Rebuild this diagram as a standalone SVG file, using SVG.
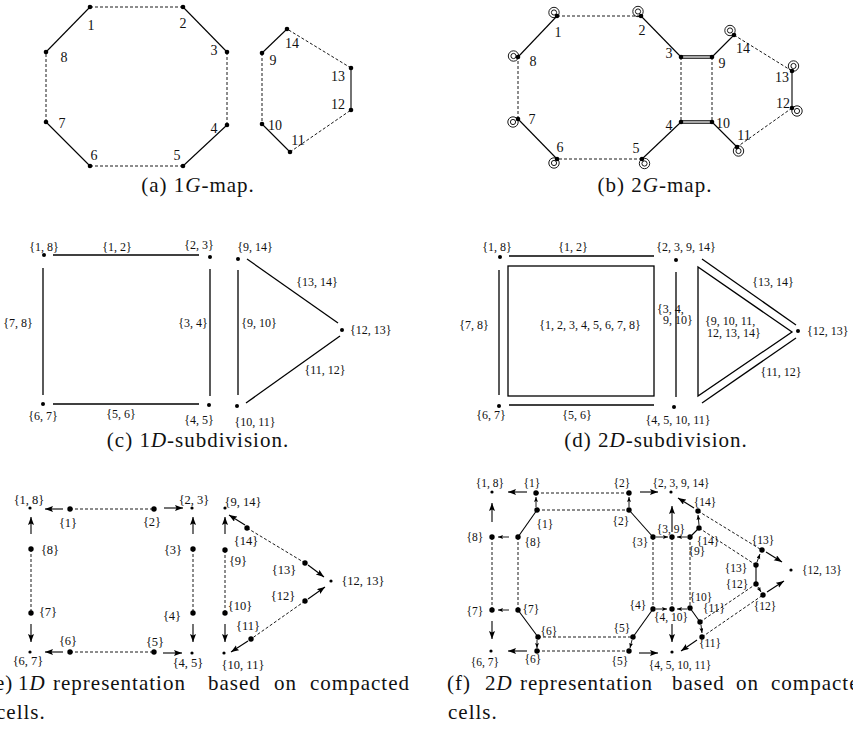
<svg xmlns="http://www.w3.org/2000/svg" width="853" height="743" viewBox="0 0 853 743">
<defs>
<style>
text{font-family:'Liberation Serif','Times New Roman',serif;fill:#111}
.n{font-size:14px;text-anchor:middle}
.l{font-size:12px;text-anchor:middle}
.ls{font-size:12px;text-anchor:start}
.le{font-size:12.5px;text-anchor:middle}
.lf{font-size:11.5px;text-anchor:middle}
.cap{font-size:21px;letter-spacing:1px}
.s{stroke:#000;stroke-width:1.1;fill:none}
.t{stroke:#000;stroke-width:1.3;fill:none}
.d{stroke:#000;stroke-width:0.9;stroke-dasharray:3 2;fill:none}
.a{stroke:#000;stroke-width:1.1;marker-end:url(#ah)}
.as{stroke:#000;stroke-width:0.9;marker-end:url(#ahs)}
.ring{fill:none;stroke:#000;stroke-width:0.9}
</style>
<marker id="ah" markerUnits="userSpaceOnUse" markerWidth="9" markerHeight="7" refX="8" refY="3" orient="auto"><path d="M0,0 L8,3 L0,6 L1.5,3 z" fill="#000"/></marker>
<marker id="ahs" markerUnits="userSpaceOnUse" markerWidth="6" markerHeight="5" refX="5" refY="2" orient="auto"><path d="M0,0 L5,2 L0,4 L1,2 z" fill="#000"/></marker>
</defs>
<rect width="853" height="743" fill="#fff"/>

<!-- ===== (a) 1G-map ===== -->
<g id="a-connectors">
<line class="s" x1="90" y1="7" x2="46" y2="52"/>
<line class="d" x1="90" y1="7" x2="183" y2="7"/>
<line class="s" x1="183" y1="7" x2="227" y2="52"/>
<line class="d" x1="227" y1="52" x2="227" y2="125"/>
<line class="s" x1="227" y1="125" x2="183" y2="166"/>
<line class="d" x1="183" y1="166" x2="90" y2="166"/>
<line class="s" x1="90" y1="166" x2="46" y2="122"/>
<line class="d" x1="46" y1="122" x2="46" y2="52"/>
<line class="s" x1="287" y1="29" x2="262" y2="53"/>
<line class="d" x1="262" y1="53" x2="262" y2="124"/>
<line class="s" x1="262" y1="124" x2="290" y2="152"/>
<line class="d" x1="290" y1="152" x2="351" y2="110"/>
<line class="s" x1="351" y1="110" x2="351" y2="68"/>
<line class="d" x1="351" y1="68" x2="287" y2="29"/>
</g>
<g id="a-n1"><circle cx="90" cy="7" r="2.3"/><text class="n" x="91" y="30">1</text></g>
<g id="a-n2"><circle cx="183" cy="7" r="2.3"/><text class="n" x="183" y="28">2</text></g>
<g id="a-n3"><circle cx="227" cy="52" r="2.3"/><text class="n" x="214" y="55">3</text></g>
<g id="a-n4"><circle cx="227" cy="125" r="2.3"/><text class="n" x="214" y="133">4</text></g>
<g id="a-n5"><circle cx="183" cy="166" r="2.3"/><text class="n" x="177" y="160">5</text></g>
<g id="a-n6"><circle cx="90" cy="166" r="2.3"/><text class="n" x="94" y="160">6</text></g>
<g id="a-n7"><circle cx="46" cy="122" r="2.3"/><text class="n" x="62" y="128">7</text></g>
<g id="a-n8"><circle cx="46" cy="52" r="2.3"/><text class="n" x="64" y="62">8</text></g>
<g id="a-n9"><circle cx="262" cy="53" r="2.3"/><text class="n" x="273" y="65">9</text></g>
<g id="a-n10"><circle cx="262" cy="124" r="2.3"/><text class="n" x="275" y="130">10</text></g>
<g id="a-n11"><circle cx="290" cy="152" r="2.3"/><text class="n" x="298" y="145">11</text></g>
<g id="a-n12"><circle cx="351" cy="110" r="2.3"/><text class="n" x="338" y="109">12</text></g>
<g id="a-n13"><circle cx="351" cy="68" r="2.3"/><text class="n" x="338" y="81">13</text></g>
<g id="a-n14"><circle cx="287" cy="29" r="2.3"/><text class="n" x="292" y="48">14</text></g>
<text class="cap" x="198" y="192" text-anchor="middle">(a) 1<tspan font-style="italic">G</tspan>-map.</text>

<!-- ===== (b) 2G-map ===== -->
<g id="b-connectors">
<line class="s" x1="557" y1="16" x2="518" y2="57"/>
<line class="d" x1="557" y1="16" x2="641" y2="16"/>
<line class="s" x1="641" y1="16" x2="681" y2="57"/>
<line class="s" x1="681" y1="55.8" x2="712" y2="55.8"/>
<line class="s" x1="681" y1="58.2" x2="712" y2="58.2"/>
<line class="d" x1="681" y1="57" x2="681" y2="122"/>
<line class="d" x1="712" y1="57" x2="712" y2="122"/>
<line class="s" x1="681" y1="120.8" x2="712" y2="120.8"/>
<line class="s" x1="681" y1="123.2" x2="712" y2="123.2"/>
<line class="s" x1="681" y1="122" x2="642" y2="159"/>
<line class="d" x1="642" y1="159" x2="557" y2="159"/>
<line class="s" x1="557" y1="159" x2="518" y2="119"/>
<line class="d" x1="518" y1="119" x2="518" y2="57"/>
<line class="s" x1="712" y1="57" x2="734" y2="35"/>
<line class="d" x1="734" y1="35" x2="792" y2="71"/>
<line class="s" x1="792" y1="71" x2="792" y2="108"/>
<line class="d" x1="792" y1="108" x2="737" y2="147"/>
<line class="s" x1="737" y1="147" x2="712" y2="122"/>
</g>
<g id="b-n1"><circle class="ring" cx="554" cy="12.5" r="5.2"/><circle class="ring" cx="554" cy="12.5" r="2.6"/><circle cx="557" cy="16" r="2.3"/><text class="n" x="558" y="37">1</text></g>
<g id="b-n2"><circle class="ring" cx="638" cy="11.5" r="5.2"/><circle class="ring" cx="638" cy="11.5" r="2.6"/><circle cx="641" cy="16" r="2.3"/><text class="n" x="642" y="35">2</text></g>
<g id="b-n3"><circle cx="681" cy="57" r="2.3"/><text class="n" x="669" y="58">3</text></g>
<g id="b-n4"><circle cx="681" cy="122" r="2.3"/><text class="n" x="669" y="130">4</text></g>
<g id="b-n5"><circle class="ring" cx="644.5" cy="163.5" r="5.2"/><circle class="ring" cx="644.5" cy="163.5" r="2.6"/><circle cx="642" cy="159" r="2.3"/><text class="n" x="636" y="153">5</text></g>
<g id="b-n6"><circle class="ring" cx="554" cy="163" r="5.2"/><circle class="ring" cx="554" cy="163" r="2.6"/><circle cx="557" cy="159" r="2.3"/><text class="n" x="560" y="152">6</text></g>
<g id="b-n7"><circle class="ring" cx="513" cy="122" r="5.2"/><circle class="ring" cx="513" cy="122" r="2.6"/><circle cx="518" cy="119" r="2.3"/><text class="n" x="532" y="124">7</text></g>
<g id="b-n8"><circle class="ring" cx="513.5" cy="56" r="5.2"/><circle class="ring" cx="513.5" cy="56" r="2.6"/><circle cx="518" cy="57" r="2.3"/><text class="n" x="533" y="66">8</text></g>
<g id="b-n9"><circle cx="712" cy="57" r="2.3"/><text class="n" x="722" y="68">9</text></g>
<g id="b-n10"><circle cx="712" cy="122" r="2.3"/><text class="n" x="723" y="128">10</text></g>
<g id="b-n11"><circle class="ring" cx="738.5" cy="151" r="5.2"/><circle class="ring" cx="738.5" cy="151" r="2.6"/><circle cx="737" cy="147" r="2.3"/><text class="n" x="744" y="140">11</text></g>
<g id="b-n12"><circle class="ring" cx="797" cy="111" r="5.2"/><circle class="ring" cx="797" cy="111" r="2.6"/><circle cx="792" cy="108" r="2.3"/><text class="n" x="783" y="108">12</text></g>
<g id="b-n13"><circle class="ring" cx="793.5" cy="66" r="5.2"/><circle class="ring" cx="793.5" cy="66" r="2.6"/><circle cx="792" cy="71" r="2.3"/><text class="n" x="782" y="82">13</text></g>
<g id="b-n14"><circle class="ring" cx="730" cy="30.5" r="5.2"/><circle class="ring" cx="730" cy="30.5" r="2.6"/><circle cx="734" cy="35" r="2.3"/><text class="n" x="743" y="53">14</text></g>
<text class="cap" x="655" y="192" text-anchor="middle">(b) 2<tspan font-style="italic">G</tspan>-map.</text>

<!-- ===== (c) 1D-subdivision ===== -->
<g id="c-connectors">
<line class="t" x1="53" y1="255" x2="199" y2="255"/>
<line class="t" x1="43" y1="268" x2="43" y2="395"/>
<line class="t" x1="210" y1="269" x2="210" y2="396"/>
<line class="t" x1="238" y1="270" x2="238" y2="395"/>
<line class="t" x1="53" y1="404" x2="199" y2="404"/>
<line class="t" x1="247" y1="259" x2="338" y2="323"/>
<line class="t" x1="246" y1="403" x2="340" y2="336"/>
<text class="l" x="117" y="251">{1, 2}</text>
<text class="l" x="18" y="327">{7, 8}</text>
<text class="l" x="193" y="327">{3, 4}</text>
<text class="l" x="259" y="327">{9, 10}</text>
<text class="l" x="121" y="418">{5, 6}</text>
<text class="l" x="317" y="286">{13, 14}</text>
<text class="l" x="325" y="374">{11, 12}</text>
</g>
<g id="c-n18"><circle cx="44" cy="255" r="2"/><text class="l" x="44" y="251">{1, 8}</text></g>
<g id="c-n23"><circle cx="210" cy="257" r="2"/><text class="l" x="199" y="249">{2, 3}</text></g>
<g id="c-n914"><circle cx="238" cy="259" r="2"/><text class="l" x="255" y="251">{9, 14}</text></g>
<g id="c-n1213"><circle cx="342" cy="330" r="2"/><text class="ls" x="350" y="334">{12, 13}</text></g>
<g id="c-n1011"><circle cx="237" cy="406" r="2"/><text class="l" x="255" y="426">{10, 11}</text></g>
<g id="c-n45"><circle cx="209" cy="405" r="2"/><text class="l" x="199" y="424">{4, 5}</text></g>
<g id="c-n67"><circle cx="43" cy="404" r="2"/><text class="l" x="43" y="420">{6, 7}</text></g>
<text class="cap" x="198" y="447" text-anchor="middle">(c) 1<tspan font-style="italic">D</tspan>-subdivision.</text>

<!-- ===== (d) 2D-subdivision ===== -->
<g id="d-connectors">
<line class="t" x1="509" y1="256" x2="654" y2="256"/>
<line class="t" x1="499" y1="270" x2="499" y2="395"/>
<line class="t" x1="509" y1="405" x2="654" y2="405"/>
<line class="t" x1="676" y1="272" x2="676" y2="397"/>
<line class="t" x1="702" y1="259" x2="796" y2="325"/>
<line class="t" x1="702" y1="403" x2="796" y2="338"/>
<text class="l" x="573" y="251">{1, 2}</text>
<text class="l" x="474" y="329">{7, 8}</text>
<text class="l" x="577" y="419">{5, 6}</text>
<text class="ls" x="657" y="313">{3, 4,</text>
<text class="ls" x="663" y="324">9, 10}</text>
<text class="l" x="773" y="286">{13, 14}</text>
<text class="l" x="781" y="376">{11, 12}</text>
</g>
<g id="d-face1"><rect class="t" x="508" y="266" width="146" height="130"/><text class="l" x="590" y="329">{1, 2, 3, 4, 5, 6, 7, 8}</text></g>
<g id="d-face2"><polygon class="t" points="698,267 698,396 792,332"/><text class="ls" x="705" y="325">{9, 10, 11,</text><text class="ls" x="707" y="337">12, 13, 14}</text></g>
<g id="d-n18"><circle cx="500" cy="257" r="2"/><text class="l" x="497" y="251">{1, 8}</text></g>
<g id="d-n23914"><circle cx="676" cy="260" r="2"/><text class="l" x="686" y="251">{2, 3, 9, 14}</text></g>
<g id="d-n67"><circle cx="499" cy="406" r="2"/><text class="l" x="491" y="419">{6, 7}</text></g>
<g id="d-n451011"><circle cx="674" cy="407" r="2"/><text class="l" x="678" y="424">{4, 5, 10, 11}</text></g>
<g id="d-n1213"><circle cx="798" cy="331" r="2"/><text class="ls" x="807" y="335">{12, 13}</text></g>
<text class="cap" x="656" y="447" text-anchor="middle">(d) 2<tspan font-style="italic">D</tspan>-subdivision.</text>

<!-- ===== (e) 1D representation ===== -->
<g id="panel-e" transform="translate(0,-6)">
<g id="e-connectors">
<line class="d" x1="70" y1="515" x2="154" y2="515"/>
<line class="d" x1="70" y1="658" x2="154" y2="658"/>
<line class="d" x1="31" y1="555" x2="31" y2="619"/>
<line class="d" x1="193" y1="555" x2="193" y2="619"/>
<line class="d" x1="225" y1="556" x2="225" y2="619"/>
<line class="d" x1="247" y1="534" x2="305" y2="569"/>
<line class="d" x1="305" y1="607" x2="251" y2="645"/>
<line class="a" x1="63" y1="515" x2="45" y2="515"/>
<line class="a" x1="164" y1="514" x2="183" y2="514"/>
<line class="a" x1="31" y1="540" x2="31" y2="523"/>
<line class="a" x1="193" y1="540" x2="193" y2="523"/>
<line class="a" x1="225" y1="540" x2="225" y2="523"/>
<line class="a" x1="31" y1="630" x2="31" y2="648"/>
<line class="a" x1="193" y1="630" x2="193" y2="648"/>
<line class="a" x1="225" y1="630" x2="225" y2="648"/>
<line class="a" x1="63" y1="658" x2="45" y2="658"/>
<line class="a" x1="163" y1="659" x2="182" y2="659"/>
<line class="a" x1="245" y1="531" x2="229" y2="521"/>
<line class="a" x1="308" y1="571" x2="324" y2="583"/>
<line class="a" x1="308" y1="605" x2="325" y2="593"/>
<line class="a" x1="248" y1="647" x2="231" y2="658"/>
</g>
<g id="e-n18"><circle cx="30" cy="514" r="1.6"/><text class="le" x="29" y="510">{1, 8}</text></g>
<g id="e-n1"><circle cx="70" cy="515" r="2.7"/><text class="le" x="68" y="533">{1}</text></g>
<g id="e-n2"><circle cx="154" cy="515" r="2.7"/><text class="le" x="152" y="532">{2}</text></g>
<g id="e-n23"><circle cx="192" cy="514" r="1.6"/><text class="le" x="194" y="510">{2, 3}</text></g>
<g id="e-n914"><circle cx="225" cy="514" r="1.6"/><text class="le" x="243" y="512">{9, 14}</text></g>
<g id="e-n8"><circle cx="31" cy="555" r="2.7"/><text class="le" x="50" y="560">{8}</text></g>
<g id="e-n3"><circle cx="193" cy="555" r="2.7"/><text class="le" x="173" y="560">{3}</text></g>
<g id="e-n9"><circle cx="225" cy="556" r="2.7"/><text class="le" x="238" y="571">{9}</text></g>
<g id="e-n14"><circle cx="247" cy="534" r="2.7"/><text class="le" x="246" y="551">{14}</text></g>
<g id="e-n13"><circle cx="305" cy="569" r="2.7"/><text class="le" x="284" y="580">{13}</text></g>
<g id="e-n1213"><circle cx="331" cy="587" r="1.6"/><text class="le" x="363" y="591">{12, 13}</text></g>
<g id="e-n12"><circle cx="305" cy="607" r="2.7"/><text class="le" x="283" y="606">{12}</text></g>
<g id="e-n10"><circle cx="225" cy="619" r="2.7"/><text class="le" x="240" y="616">{10}</text></g>
<g id="e-n7"><circle cx="31" cy="619" r="2.7"/><text class="le" x="48" y="622">{7}</text></g>
<g id="e-n4"><circle cx="193" cy="619" r="2.7"/><text class="le" x="172" y="626">{4}</text></g>
<g id="e-n11"><circle cx="251" cy="645" r="2.7"/><text class="le" x="248" y="636">{11}</text></g>
<g id="e-n6"><circle cx="70" cy="658" r="2.7"/><text class="le" x="68" y="651">{6}</text></g>
<g id="e-n5"><circle cx="154" cy="658" r="2.7"/><text class="le" x="155" y="652">{5}</text></g>
<g id="e-n67"><circle cx="30" cy="658" r="1.6"/><text class="le" x="28" y="671">{6, 7}</text></g>
<g id="e-n45"><circle cx="192" cy="659" r="1.6"/><text class="le" x="188" y="673">{4, 5}</text></g>
<g id="e-n1011"><circle cx="224" cy="659" r="1.6"/><text class="le" x="243" y="675">{10, 11}</text></g>
</g>
<g id="e-caption">
<text class="cap" x="-13" y="690">(e)</text>
<text class="cap" x="18" y="690">1<tspan font-style="italic">D</tspan></text>
<text class="cap" x="53" y="690">representation</text>
<text class="cap" x="208" y="690">based</text>
<text class="cap" x="274" y="690">on</text>
<text class="cap" x="310" y="690">compacted</text>
<text class="cap" x="-4" y="719">cells.</text>
</g>

<!-- ===== (f) 2D representation ===== -->
<g id="panel-f" transform="translate(0,-6)">
<g id="f-connectors">
<line class="d" x1="536" y1="499" x2="629" y2="499"/>
<line class="d" x1="537" y1="516" x2="629" y2="516"/>
<line class="d" x1="538" y1="643" x2="633" y2="643"/>
<line class="d" x1="537" y1="657" x2="629" y2="657"/>
<line class="d" x1="492" y1="543" x2="492" y2="616"/>
<line class="d" x1="518" y1="543" x2="518" y2="616"/>
<line class="d" x1="653" y1="543" x2="653" y2="615"/>
<line class="d" x1="672" y1="543" x2="672" y2="615"/>
<line class="d" x1="690" y1="543" x2="690" y2="614"/>
<line class="d" x1="698" y1="517" x2="760" y2="555"/>
<line class="d" x1="699" y1="534" x2="756" y2="571"/>
<line class="d" x1="700" y1="628" x2="756" y2="590"/>
<line class="d" x1="702" y1="643" x2="763" y2="601"/>
<line class="s" x1="537" y1="516" x2="518" y2="543"/>
<line class="s" x1="518" y1="616" x2="538" y2="643"/>
<line class="s" x1="633" y1="643" x2="653" y2="615"/>
<line class="s" x1="629" y1="516" x2="653" y2="543"/>
<line class="s" x1="690" y1="543" x2="699" y2="534"/>
<line class="s" x1="690" y1="614" x2="700" y2="628"/>
<line class="s" x1="756" y1="571" x2="756" y2="590"/>
<line class="a" x1="527" y1="498" x2="508" y2="498"/>
<line class="a" x1="640" y1="498" x2="658" y2="498"/>
<line class="a" x1="492" y1="528" x2="492" y2="509"/>
<line class="a" x1="672" y1="538" x2="672" y2="512"/>
<line class="a" x1="694" y1="514" x2="678" y2="504"/>
<line class="a" x1="492" y1="627" x2="492" y2="645"/>
<line class="a" x1="527" y1="657" x2="508" y2="657"/>
<line class="a" x1="639" y1="659" x2="658" y2="659"/>
<line class="a" x1="672" y1="630" x2="672" y2="648"/>
<line class="a" x1="697" y1="646" x2="681" y2="657"/>
<line class="a" x1="766" y1="558" x2="782" y2="568"/>
<line class="a" x1="767" y1="598" x2="784" y2="587"/>
<line class="as" x1="536" y1="513" x2="536" y2="503"/>
<line class="as" x1="629" y1="513" x2="629" y2="503"/>
<line class="as" x1="509" y1="543" x2="498" y2="543"/>
<line class="as" x1="509" y1="616" x2="498" y2="616"/>
<line class="as" x1="537" y1="646" x2="537" y2="654"/>
<line class="as" x1="632" y1="646" x2="630" y2="654"/>
<line class="as" x1="656" y1="543" x2="668" y2="543"/>
<line class="as" x1="687" y1="543" x2="677" y2="543"/>
<line class="as" x1="656" y1="615" x2="667" y2="615"/>
<line class="as" x1="687" y1="615" x2="677" y2="615"/>
<line class="as" x1="699" y1="531" x2="698" y2="521"/>
<line class="as" x1="701" y1="631" x2="702" y2="639"/>
<line class="as" x1="757" y1="568" x2="760" y2="560"/>
<line class="as" x1="758" y1="593" x2="761" y2="598"/>
</g>
<g id="f-n18"><circle cx="492" cy="498" r="1.6"/><text class="lf" x="490" y="493">{1, 8}</text></g>
<g id="f-n1t"><circle cx="536" cy="499" r="2.7"/><text class="lf" x="532" y="493">{1}</text></g>
<g id="f-n2t"><circle cx="629" cy="499" r="2.7"/><text class="lf" x="622" y="493">{2}</text></g>
<g id="f-n23914"><circle cx="671" cy="498" r="1.6"/><text class="lf" x="681" y="493">{2, 3, 9, 14}</text></g>
<g id="f-n1l"><circle cx="537" cy="516" r="2.7"/><text class="lf" x="545" y="534">{1}</text></g>
<g id="f-n2l"><circle cx="629" cy="516" r="2.7"/><text class="lf" x="621" y="531">{2}</text></g>
<g id="f-n14u"><circle cx="698" cy="517" r="2.7"/><text class="lf" x="705" y="512">{14}</text></g>
<g id="f-n8o"><circle cx="492" cy="543" r="2.7"/><text class="lf" x="475" y="547">{8}</text></g>
<g id="f-n8i"><circle cx="518" cy="543" r="2.7"/><text class="lf" x="533" y="552">{8}</text></g>
<g id="f-n3"><circle cx="653" cy="543" r="2.7"/><text class="lf" x="640" y="552">{3}</text></g>
<g id="f-n39"><circle cx="672" cy="543" r="2.7"/><text class="lf" x="671" y="539">{3, 9}</text></g>
<g id="f-n9"><circle cx="690" cy="543" r="2.7"/><text class="lf" x="697" y="561">{9}</text></g>
<g id="f-n14l"><circle cx="699" cy="534" r="2.7"/><text class="lf" x="708" y="551">{14}</text></g>
<g id="f-n13u"><circle cx="762" cy="556" r="2.7"/><text class="lf" x="763" y="550">{13}</text></g>
<g id="f-n13l"><circle cx="756" cy="571" r="2.7"/><text class="lf" x="736" y="578">{13}</text></g>
<g id="f-n1213"><circle cx="791" cy="576" r="1.6"/><text class="lf" x="822" y="580">{12, 13}</text></g>
<g id="f-n12u"><circle cx="756" cy="590" r="2.7"/><text class="lf" x="737" y="594">{12}</text></g>
<g id="f-n12l"><circle cx="763" cy="601" r="2.7"/><text class="lf" x="765" y="616">{12}</text></g>
<g id="f-n10"><circle cx="690" cy="614" r="2.7"/><text class="lf" x="701" y="607">{10}</text></g>
<g id="f-n11u"><circle cx="700" cy="628" r="2.7"/><text class="lf" x="714" y="618">{11}</text></g>
<g id="f-n4"><circle cx="653" cy="615" r="2.7"/><text class="lf" x="638" y="615">{4}</text></g>
<g id="f-n410"><circle cx="672" cy="615" r="2.7"/><text class="lf" x="671" y="627">{4, 10}</text></g>
<g id="f-n11l"><circle cx="702" cy="643" r="2.7"/><text class="lf" x="710" y="653">{11}</text></g>
<g id="f-n7o"><circle cx="492" cy="616" r="2.7"/><text class="lf" x="475" y="621">{7}</text></g>
<g id="f-n7i"><circle cx="518" cy="616" r="2.7"/><text class="lf" x="531" y="619">{7}</text></g>
<g id="f-n6i"><circle cx="538" cy="643" r="2.7"/><text class="lf" x="549" y="641">{6}</text></g>
<g id="f-n6l"><circle cx="537" cy="657" r="2.7"/><text class="lf" x="533" y="669">{6}</text></g>
<g id="f-n5u"><circle cx="633" cy="643" r="2.7"/><text class="lf" x="622" y="638">{5}</text></g>
<g id="f-n5l"><circle cx="629" cy="657" r="2.7"/><text class="lf" x="620" y="671">{5}</text></g>
<g id="f-n67"><circle cx="491" cy="657" r="1.6"/><text class="lf" x="485" y="672">{6, 7}</text></g>
<g id="f-n451011"><circle cx="672" cy="658" r="1.6"/><text class="lf" x="680" y="675">{4, 5, 10, 11}</text></g>
</g>
<g id="f-caption">
<text class="cap" x="447" y="690">(f)</text>
<text class="cap" x="485" y="690">2<tspan font-style="italic">D</tspan></text>
<text class="cap" x="520" y="690">representation</text>
<text class="cap" x="672" y="690">based</text>
<text class="cap" x="736" y="690">on</text>
<text class="cap" x="771" y="690">compacted</text>
<text class="cap" x="448" y="719">cells.</text>
</g>
</svg>
